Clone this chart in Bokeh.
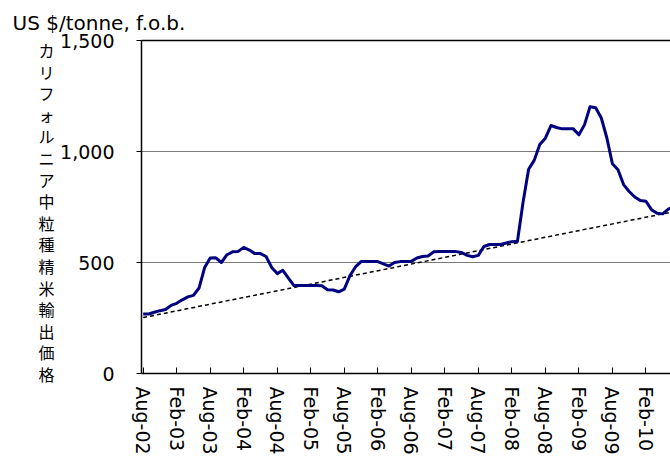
from bokeh.plotting import figure
from bokeh.models import Range1d, FixedTicker, NumeralTickFormatter, LinearAxis
from bokeh.embed import file_html
from bokeh.resources import INLINE

# ---- data (monthly, Aug-02 = month 0) ----
prices = [268, 268, 276, 283, 288, 307, 316, 332, 345, 352,
          385, 477, 520, 521, 500, 535, 548, 550, 568, 556,
          540, 540, 527, 478, 450, 465, 430, 396, 396, 396,
          396, 396, 395, 377, 376, 368, 380, 440, 480, 504,
          504, 504, 504, 494, 484, 500, 504, 504, 505, 520,
          527, 529, 548, 549, 549, 549, 549, 545, 532, 526,
          532, 572, 581, 581, 581, 588, 594, 596, 770, 920,
          960, 1032, 1060, 1117, 1108, 1102, 1102, 1102, 1075, 1120,
          1202, 1197, 1152, 1062, 945, 918, 851, 820, 795, 779,
          776, 738, 722, 719, 740, 755]
months = list(range(len(prices)))

tick_months = [0, 6, 12, 18, 24, 30, 36, 42, 48, 54, 60, 66, 72, 78, 84, 90]
tick_labels = ["Aug-02", "Feb-03", "Aug-03", "Feb-04", "Aug-04", "Feb-05",
               "Aug-05", "Feb-06", "Aug-06", "Feb-07", "Aug-07", "Feb-08",
               "Aug-08", "Feb-09", "Aug-09", "Feb-10"]
y_ticks = [0, 500, 1000, 1500]

trend_months = [0, 95]
trend_values = [252, 729]

unit_text = "US $/tonne, f.o.b."
y_title = "カリフォルニア中粒種精米輸出価格"

W, H = 670, 465
LEFT, TOP, BOTTOM = 141, 40, 92
FRAME_H = H - TOP - BOTTOM
FONT = "DejaVu Sans"
JP_FONT = "Noto Sans CJK JP"

p = figure(width=W, height=H, output_backend="svg", toolbar_location=None,
           x_range=Range1d(-0.3, 94.4), y_range=Range1d(0, 1500),
           min_border_left=LEFT, min_border_right=0,
           min_border_top=TOP, min_border_bottom=BOTTOM,
           outline_line_color=None, background_fill_color="white",
           border_fill_color="white")

# unit text as the plot title, shifted to the left edge of the canvas
p.title.text = unit_text
p.title.align = "left"
p.title.offset = 12 - LEFT
p.title.text_font = FONT
p.title.text_font_size = "20px"
p.title.text_font_style = "normal"
p.title.text_color = "black"
p.title.standoff = 12

p.xgrid.visible = False
p.ygrid.ticker = FixedTicker(ticks=[500, 1000])
p.ygrid.grid_line_color = "#7a7a7a"
p.ygrid.grid_line_width = 1.2

xa = p.xaxis[0]
xa.ticker = FixedTicker(ticks=tick_months)
xa.major_label_overrides = {m: l for m, l in zip(tick_months, tick_labels)}
xa.major_label_orientation = "vertical"
xa.major_tick_in = 6
xa.major_tick_out = 0
xa.minor_tick_line_color = None
xa.axis_line_width = 1.5
xa.axis_line_color = "black"
xa.major_tick_line_color = "black"
xa.major_label_standoff = 13
xa.major_label_text_font = FONT
xa.major_label_text_font_size = "19px"
xa.major_label_text_color = "black"

ya = p.yaxis[0]
ya.ticker = FixedTicker(ticks=y_ticks)
ya.formatter = NumeralTickFormatter(format="0,0")
ya.major_tick_in = 0
ya.major_tick_out = 5
ya.minor_tick_line_color = None
ya.axis_line_width = 1.5
ya.axis_line_color = "black"
ya.major_label_standoff = 22
ya.major_label_text_font = FONT
ya.major_label_text_font_size = "19px"
ya.major_label_text_color = "black"

# vertical Japanese title: one character per tick of a pixel-scaled extra axis
p.extra_y_ranges = {"jp_px": Range1d(0, FRAME_H)}
jp_pos = [int(round(H - BOTTOM - (49 + 21.6 * k))) for k in range(len(y_title))]
jp_axis = LinearAxis(y_range_name="jp_px", ticker=FixedTicker(ticks=jp_pos),
                     major_label_overrides={pos: ch for pos, ch in zip(jp_pos, y_title)},
                     axis_line_color=None, major_tick_line_color=None,
                     minor_tick_line_color=None, major_tick_in=0, major_tick_out=0,
                     major_label_standoff=3, major_label_orientation="horizontal",
                     major_label_text_font=JP_FONT, major_label_text_font_size="16px",
                     major_label_text_color="black")
p.add_layout(jp_axis, "left")

top = LinearAxis(ticker=FixedTicker(ticks=[]), major_tick_in=0, major_tick_out=0,
                 minor_tick_in=0, minor_tick_out=0, major_label_text_font_size="0px",
                 axis_line_color="black", axis_line_width=1.5)
p.add_layout(top, "above")

p.line(trend_months, trend_values, line_color="black", line_width=1.5,
       line_dash="4 3")
p.line(months, prices, line_color="#000080", line_width=3, line_join="round")

open("out.html", "w").write(file_html(p, INLINE))
